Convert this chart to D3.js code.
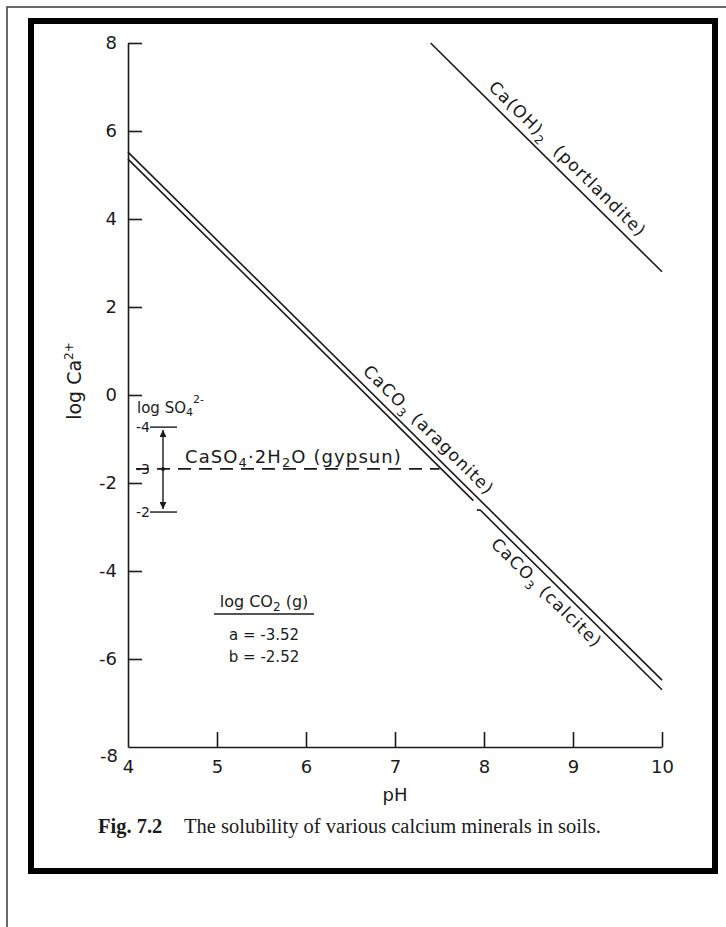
<!DOCTYPE html>
<html lang="en">
<head>
<meta charset="UTF-8">
<title>Solubility of calcium minerals</title>
<script src="https://d3js.org/d3.v7.min.js"></script>
<style>
  body { margin: 0; background: #fff; }
  svg text { font-family: "DejaVu Sans", sans-serif; fill: #1a1a1a; }
</style>
</head>
<body>
<script>
// axis ticks
var phTicks = [4, 5, 6, 7, 8, 9, 10];
var caTicks = [8, 6, 4, 2, 0, -2, -4, -6, -8];

// solubility lines (pH, log Ca2+)
var upperPH = [4, 10];
var upperCa = [5.52, -6.48];
var aragonitePH = [4, 7.88];
var aragoniteCa = [5.36, -2.40];
var calcitePH = [7.92, 7.96, 10];
var calciteCa = [-2.61, -2.62, -6.70];
var portlanditePH = [7.4, 10];
var portlanditeCa = [8.0, 2.8];
var gypsumPH = [4, 7.5];
var gypsumCa = [-1.68, -1.68];

// log SO4 scale drawn beside the gypsum line
var so4Ticks = [-4, -3, -2];
var so4Ca = [-0.73, -1.68, -2.66];

// log CO2 (g) key
var co2Names = ['a', 'b'];
var co2Values = [-3.52, -2.52];

var width = 726, height = 927;

var svg = d3.select('body').append('svg')
    .attr('width', width)
    .attr('height', height);

// page frames
svg.append('rect')
    .attr('x', 7).attr('y', 7)
    .attr('width', 800).attr('height', 1000)
    .attr('fill', 'none').attr('stroke', '#444').attr('stroke-width', 1.6);
svg.append('rect')
    .attr('x', 31).attr('y', 21)
    .attr('width', 684).attr('height', 850)
    .attr('fill', '#fff').attr('stroke', '#000').attr('stroke-width', 6);

var x = d3.scaleLinear().domain([4, 10]).range([128, 662]);
var y = d3.scaleLinear().domain([-8, 8]).range([747, 43]);

var line = d3.line()
    .x(function(d) { return x(d[0]); })
    .y(function(d) { return y(d[1]); });

function pts(ph, ca) { return ph.map(function(p, i) { return [p, ca[i]]; }); }

// y axis, ticks pointing inward
var yAxis = svg.append('g')
    .attr('transform', 'translate(' + x(4) + ',0)')
    .call(d3.axisLeft(y).tickValues(caTicks).tickSize(-14).tickSizeOuter(0)
        .tickPadding(11).tickFormat(function(d) { return String(d); }));
yAxis.selectAll('text').style('font-size', '18px');
yAxis.selectAll('text').filter(function(d) { return d === -8; }).attr('dy', '0.8em').attr('x', -10);
yAxis.selectAll('line').filter(function(d) { return d === -8; }).remove();

// x axis, ticks pointing up
var xAxis = svg.append('g')
    .attr('transform', 'translate(0,' + y(-8) + ')')
    .call(d3.axisBottom(x).tickValues(phTicks).tickSize(-15).tickSizeOuter(0)
        .tickPadding(13).tickFormat(function(d) { return String(d); }));
xAxis.selectAll('text').style('font-size', '18px');
xAxis.selectAll('line').filter(function(d) { return d === 4; }).remove();

svg.selectAll('.domain, .tick line')
    .attr('stroke', '#1a1a1a').attr('stroke-width', 1.6);
svg.selectAll('.tick text').attr('fill', '#1a1a1a').style('font-family', '"DejaVu Sans", sans-serif');

svg.append('text')
    .attr('x', x(7)).attr('y', 801)
    .attr('text-anchor', 'middle')
    .style('font-size', '18px')
    .text('pH');

var yTitle = svg.append('text')
    .attr('transform', 'translate(81,381) rotate(-90)')
    .attr('text-anchor', 'middle')
    .style('font-size', '19px');
yTitle.append('tspan').text('log Ca');
yTitle.append('tspan').attr('dy', -8).style('font-size', '12px').text('2+');

// solubility lines
var lines = [pts(upperPH, upperCa), pts(aragonitePH, aragoniteCa),
             pts(calcitePH, calciteCa), pts(portlanditePH, portlanditeCa)];
svg.selectAll('path.sol')
    .data(lines)
    .enter().append('path')
    .attr('class', 'sol')
    .attr('d', line)
    .attr('fill', 'none')
    .attr('stroke', '#1a1a1a')
    .attr('stroke-width', 1.6);

svg.append('path')
    .attr('d', line(pts(gypsumPH, gypsumCa)))
    .attr('fill', 'none')
    .attr('stroke', '#1a1a1a')
    .attr('stroke-width', 1.6)
    .attr('stroke-dasharray', '13,8')
    .attr('stroke-dashoffset', -8);

// labels along the sloping lines
function slopeLabel(ph, ca, atPH, offset, parts) {
    var ang = Math.atan2(y(ca[1]) - y(ca[0]), x(ph[1]) - x(ph[0])) * 180 / Math.PI;
    var t = (atPH - ph[0]) / (ph[1] - ph[0]);
    var cy = ca[0] + t * (ca[1] - ca[0]);
    var txt = svg.append('text')
        .attr('transform', 'translate(' + x(atPH) + ',' + y(cy) + ') rotate(' + ang + ')')
        .attr('y', offset)
        .attr('text-anchor', 'middle')
        .style('font-size', '17px')
        .style('letter-spacing', '1.2px');
    parts.forEach(function(p) {
        var s = txt.append('tspan').text(p[0]);
        if (p[1] === 'sub') s.attr('dy', 5).style('font-size', '12px');
        if (p[1] === 'back') s.attr('dy', -5);
    });
}

slopeLabel(portlanditePH, portlanditeCa, 8.83, -8,
    [['Ca(OH)'], ['2', 'sub'], ['\u00a0 (portlandite)', 'back']]);
slopeLabel(upperPH, upperCa, 7.27, -8,
    [['CaCO'], ['3', 'sub'], [' (aragonite)', 'back']]);
slopeLabel([calcitePH[1], calcitePH[2]], [calciteCa[1], calciteCa[2]], 8.8, 18,
    [['CaCO'], ['3', 'sub'], [' (calcite)', 'back']]);

// gypsum label
var gyp = svg.append('text')
    .attr('x', 185).attr('y', y(gypsumCa[0]) - 6)
    .style('font-size', '18px')
    .style('letter-spacing', '1.1px');
gyp.append('tspan').text('CaSO');
gyp.append('tspan').attr('dy', 4).style('font-size', '13px').text('4');
gyp.append('tspan').attr('dy', -4).text('\u00b72H');
gyp.append('tspan').attr('dy', 4).style('font-size', '13px').text('2');
gyp.append('tspan').attr('dy', -4).text('O (gypsun)');

// log SO4 scale
var so4 = svg.append('g');
var so4Title = so4.append('text')
    .attr('x', x(4) + 9).attr('y', 413)
    .style('font-size', '15px');
so4Title.append('tspan').text('log SO');
so4Title.append('tspan').attr('dy', 3).style('font-size', '11px').text('4');
so4Title.append('tspan').attr('dy', -13).style('font-size', '11px').text('2-');

var defs = svg.append('defs');
defs.append('marker')
    .attr('id', 'arrow')
    .attr('viewBox', '0 0 10 10')
    .attr('refX', 10).attr('refY', 5)
    .attr('markerWidth', 7).attr('markerHeight', 7)
    .attr('markerUnits', 'userSpaceOnUse')
    .attr('orient', 'auto-start-reverse')
    .append('path').attr('d', 'M0,0 L10,5 L0,10 Z').attr('fill', '#1a1a1a');

so4.append('line')
    .attr('x1', x(4) + 35).attr('x2', x(4) + 35)
    .attr('y1', y(so4Ca[0]) + 3).attr('y2', y(so4Ca[2]) - 3)
    .attr('stroke', '#1a1a1a').attr('stroke-width', 1.4)
    .attr('marker-start', 'url(#arrow)').attr('marker-end', 'url(#arrow)');

so4.selectAll('line.so4tick')
    .data([so4Ca[0], so4Ca[2]])
    .enter().append('line')
    .attr('class', 'so4tick')
    .attr('x1', x(4) + 22).attr('x2', x(4) + 49)
    .attr('y1', function(d) { return y(d); })
    .attr('y2', function(d) { return y(d); })
    .attr('stroke', '#1a1a1a').attr('stroke-width', 1.4);

so4.append('circle')
    .attr('cx', x(4) + 35).attr('cy', y(so4Ca[1])).attr('r', 2)
    .attr('fill', '#1a1a1a');

so4.selectAll('text.so4lab')
    .data(so4Ticks)
    .enter().append('text')
    .attr('class', 'so4lab')
    .attr('x', x(4) + 22)
    .attr('y', function(d, i) { return y(so4Ca[i]); })
    .attr('dy', '0.35em')
    .attr('text-anchor', 'end')
    .style('font-size', '14px')
    .text(function(d) { return String(d); });

// log CO2 key
var key = svg.append('g');
var keyTitle = key.append('text')
    .attr('x', 264).attr('y', 607)
    .attr('text-anchor', 'middle')
    .style('font-size', '16px');
keyTitle.append('tspan').text('log CO');
keyTitle.append('tspan').attr('dy', 4).style('font-size', '12px').text('2');
keyTitle.append('tspan').attr('dy', -4).text(' (g)');
key.append('line')
    .attr('x1', 214).attr('x2', 314).attr('y1', 614).attr('y2', 614)
    .attr('stroke', '#555').attr('stroke-width', 2);
key.selectAll('text.co2')
    .data(co2Names)
    .enter().append('text')
    .attr('class', 'co2')
    .attr('x', 264)
    .attr('y', function(d, i) { return 640 + i * 22; })
    .attr('text-anchor', 'middle')
    .style('font-size', '15px')
    .text(function(d, i) { return d + ' = -' + Math.abs(co2Values[i]).toFixed(2); });

// caption
svg.append('text')
    .attr('x', 98).attr('y', 833)
    .style('font-family', '"Liberation Serif", serif')
    .style('font-size', '20.5px')
    .style('font-weight', 'bold')
    .text('Fig. 7.2');
svg.append('text')
    .attr('x', 184).attr('y', 833)
    .style('font-family', '"Liberation Serif", serif')
    .style('font-size', '20.5px')
    .text('The solubility of various calcium minerals in soils.');
</script>
</body>
</html>
